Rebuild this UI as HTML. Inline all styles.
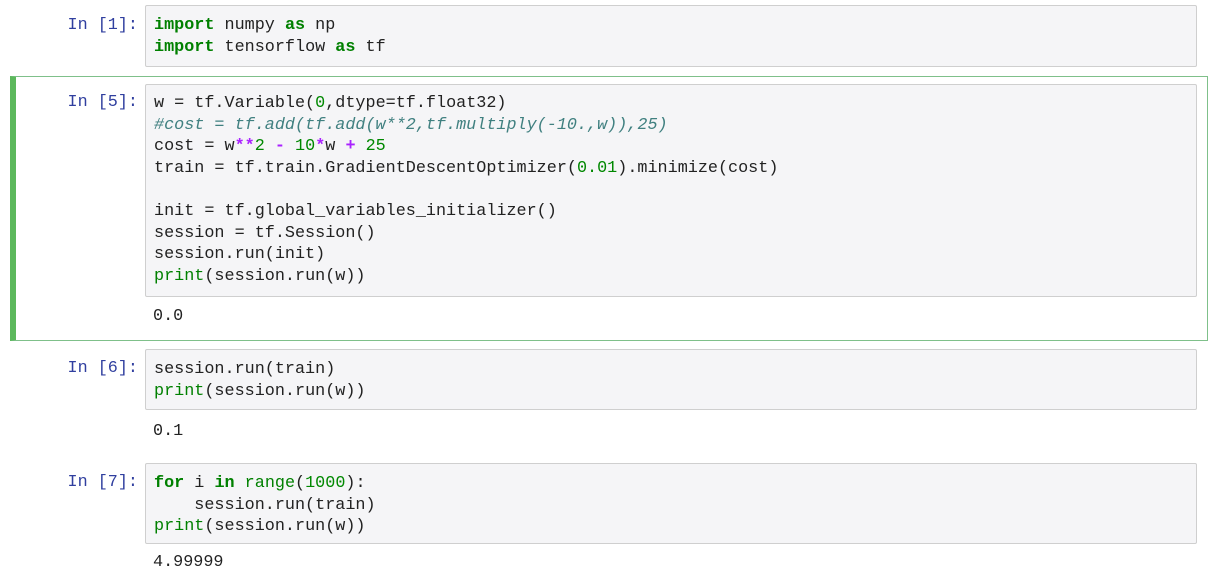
<!DOCTYPE html>
<html><head><meta charset="utf-8"><style>
body{margin:0;width:1219px;height:577px;background:#fff;position:relative;overflow:hidden;font-family:"Liberation Mono",monospace;font-size:16.8px;color:#222}
.box{position:absolute;left:145px;width:1052px;background:#f5f5f7;border:1px solid #cfcfcf;border-radius:2px;box-sizing:border-box}
pre{margin:0;font-family:inherit;font-size:inherit;line-height:21.6px;position:absolute;left:8px;white-space:pre}
.p{position:absolute;right:1081px;color:#303F9F;line-height:21.6px}
.o{position:absolute;left:153px;line-height:21.6px}
.k{color:#008000;font-weight:bold}.n{color:#008800}.c{color:#408080;font-style:italic}.op{color:#AA22FF;font-weight:bold}.b{color:#008000}
.sel{position:absolute;left:10px;top:76px;width:1198px;height:265px;border:1px solid #7fc08a;border-left:6px solid #5cb85c;box-sizing:border-box}
</style></head><body>
<div class="p" style="top:15px">In [1]:</div>
<div class="box" style="top:5px;height:62px"><pre style="top:9px"><span class="k">import</span> numpy <span class="k">as</span> np
<span class="k">import</span> tensorflow <span class="k">as</span> tf</pre></div>
<div class="sel"></div>
<div class="p" style="top:92px">In [5]:</div>
<div class="box" style="top:84px;height:213px"><pre style="top:8px">w = tf.Variable(<span class="n">0</span>,dtype=tf.float32)
<span class="c">#cost = tf.add(tf.add(w**2,tf.multiply(-10.,w)),25)</span>
cost = w<span class="op">**</span><span class="n">2</span> <span class="op">-</span> <span class="n">10</span><span class="op">*</span>w <span class="op">+</span> <span class="n">25</span>
train = tf.train.GradientDescentOptimizer(<span class="n">0.01</span>).minimize(cost)

init = tf.global_variables_initializer()
session = tf.Session()
session.run(init)
<span class="b">print</span>(session.run(w))</pre></div>
<div class="o" style="top:306px">0.0</div>
<div class="p" style="top:358px">In [6]:</div>
<div class="box" style="top:349px;height:61px"><pre style="top:9px">session.run(train)
<span class="b">print</span>(session.run(w))</pre></div>
<div class="o" style="top:421px">0.1</div>
<div class="p" style="top:472px">In [7]:</div>
<div class="box" style="top:463px;height:81px"><pre style="top:9px"><span class="k">for</span> i <span class="k">in</span> <span class="b">range</span>(<span class="n">1000</span>):
    session.run(train)
<span class="b">print</span>(session.run(w))</pre></div>
<div class="o" style="top:552px">4.99999</div>
</body></html>
